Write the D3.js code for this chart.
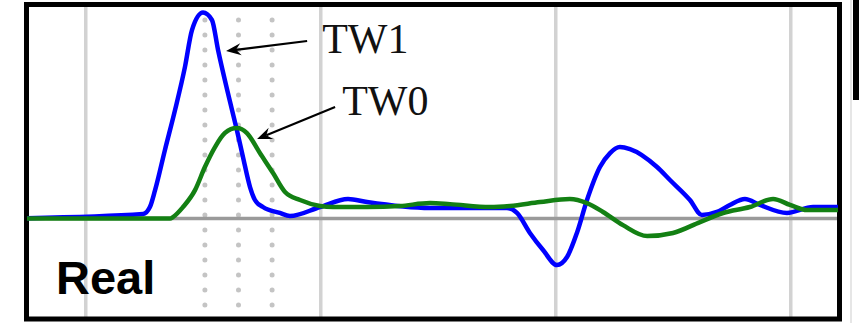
<!DOCTYPE html>
<html>
<head>
<meta charset="utf-8">
<script src="https://cdn.jsdelivr.net/npm/d3@7/dist/d3.min.js"></script>
<style>
  html, body { margin: 0; padding: 0; background: #fff; }
  svg { display: block; }
</style>
</head>
<body>
<svg id="chart" width="859" height="325"></svg>
<script>
// Waveforms: time (t) and amplitude (v), normalised so the TW1 peak is 1.
const tw1T = [-0.25, 0.244, 0.273, 0.295, 0.337, 0.380, 0.422, 0.452, 0.499, 0.537, 0.563, 0.605, 0.643, 0.669, 0.699, 0.720, 0.754, 0.826, 0.869, 0.997, 1.116, 1.197, 1.465, 1.792, 1.835, 1.890, 1.946, 2.005, 2.048, 2.090, 2.133, 2.188, 2.231, 2.273, 2.316, 2.431, 2.486, 2.571, 2.622, 2.686, 2.741, 2.805, 2.869, 2.984, 3.095, 3.201];
const tw1V = [0.002, 0.022, 0.056, 0.138, 0.333, 0.527, 0.735, 0.915, 1.000, 0.964, 0.818, 0.609, 0.430, 0.299, 0.153, 0.090, 0.056, 0.027, 0.012, 0.056, 0.095, 0.080, 0.051, 0.051, 0.027, -0.070, -0.153, -0.226, -0.187, -0.070, 0.090, 0.250, 0.318, 0.347, 0.337, 0.250, 0.187, 0.090, 0.017, 0.032, 0.066, 0.095, 0.066, 0.027, 0.056, 0.056];

const tw0T = [-0.25, 0.359, 0.371, 0.414, 0.465, 0.507, 0.550, 0.592, 0.643, 0.686, 0.741, 0.797, 0.848, 0.912, 0.997, 1.052, 1.197, 1.337, 1.465, 1.550, 1.720, 1.805, 1.933, 2.060, 2.133, 2.201, 2.286, 2.389, 2.499, 2.614, 2.712, 2.826, 2.925, 2.997, 3.069, 3.201];
const tw0V = [0.000, 0.000, 0.007, 0.056, 0.138, 0.250, 0.347, 0.415, 0.439, 0.415, 0.318, 0.221, 0.129, 0.090, 0.061, 0.056, 0.056, 0.061, 0.075, 0.070, 0.056, 0.061, 0.080, 0.095, 0.075, 0.032, -0.032, -0.085, -0.070, -0.017, 0.027, 0.056, 0.095, 0.066, 0.041, 0.041];

// Major vertical grid positions and the dotted time markers
const gridTicks = [0, 1, 2, 3];
const markerTicks = [0.507, 0.65, 0.793];

// Annotation labels: text anchor and arrow (tail -> tip), in data units
const labelNames = ["TW1", "TW0"];
const labelPos = [[1.006, 0.803], [1.091, 0.502]];
const arrowTail = [[0.942, 0.862], [1.061, 0.541]];
const arrowTip = [[0.597, 0.813], [0.729, 0.386]];

const panelTitle = "Real";

const svg = d3.select("#chart");
const W = 859, H = 325;

const x = d3.scaleLinear().domain([-0.25, 3.2]).range([27, 837.75]);
const y = d3.scaleLinear().domain([-0.478, 1.027]).range([317, 7]);

svg.append("rect").attr("width", W).attr("height", H).attr("fill", "#fff");

// Edge of the neighbouring panel
svg.append("line").attr("x1", 851).attr("x2", 851).attr("y1", 0).attr("y2", 323)
  .attr("stroke", "#e6e6e6").attr("stroke-width", 2);
svg.append("rect").attr("x", 853).attr("y", 0).attr("width", 6).attr("height", 100).attr("fill", "#000");

const plot = svg.append("g");

// Vertical grid lines
plot.selectAll("line.grid").data(gridTicks).join("line")
  .attr("class", "grid")
  .attr("x1", d => x(d)).attr("x2", d => x(d))
  .attr("y1", 7).attr("y2", 317)
  .attr("stroke", "#d2d2d2").attr("stroke-width", 3.5);

// Dotted marker lines
plot.selectAll("line.marker").data(markerTicks).join("line")
  .attr("class", "marker")
  .attr("x1", d => x(d)).attr("x2", d => x(d))
  .attr("y1", 20).attr("y2", 306)
  .attr("stroke", "#c4c4c4").attr("stroke-width", 5)
  .attr("stroke-linecap", "round").attr("stroke-dasharray", "0 15");

// Zero baseline
plot.append("line")
  .attr("x1", 29).attr("x2", 838)
  .attr("y1", y(0)).attr("y2", y(0))
  .attr("stroke", "#9a9a9a").attr("stroke-width", 3.5);

// Frame
svg.append("rect")
  .attr("x", 26.5).attr("y", 4.5).attr("width", 813).attr("height", 314.5)
  .attr("fill", "none").attr("stroke", "#000").attr("stroke-width", 5);

const line = d3.line().x(d => x(d[0])).y(d => y(d[1])).curve(d3.curveMonotoneX);

const tw1 = d3.zip(tw1T, tw1V);
const tw0 = d3.zip(tw0T, tw0V);

svg.append("path").datum(tw1).attr("d", line)
  .attr("fill", "none").attr("stroke", "#0000ff").attr("stroke-width", 4.5)
  .attr("stroke-linejoin", "round").attr("stroke-linecap", "butt");

svg.append("path").datum(tw0).attr("d", line)
  .attr("fill", "none").attr("stroke", "#138013").attr("stroke-width", 4.5)
  .attr("stroke-linejoin", "round").attr("stroke-linecap", "butt");

// Arrows with stealth-style heads
labelNames.forEach((name, i) => {
  const x0 = x(arrowTail[i][0]), y0 = y(arrowTail[i][1]);
  const x1 = x(arrowTip[i][0]), y1 = y(arrowTip[i][1]);
  const ang = Math.atan2(y1 - y0, x1 - x0);
  const len = 15, half = 6, notch = 10;
  const ux = Math.cos(ang), uy = Math.sin(ang);
  const px = -uy, py = ux;
  const bx = x1 - ux * len, by = y1 - uy * len;
  const nx = x1 - ux * notch, ny = y1 - uy * notch;
  svg.append("line")
    .attr("x1", x0).attr("y1", y0).attr("x2", nx).attr("y2", ny)
    .attr("stroke", "#000").attr("stroke-width", 2.2);
  svg.append("path")
    .attr("d", `M${x1},${y1} L${bx + px * half},${by + py * half} L${nx},${ny} L${bx - px * half},${by - py * half} Z`)
    .attr("fill", "#000");
  svg.append("text")
    .attr("x", x(labelPos[i][0])).attr("y", y(labelPos[i][1]))
    .attr("font-family", "'Liberation Serif', 'Times New Roman', serif")
    .attr("font-size", 42).attr("fill", "#111")
    .text(name);
});

svg.append("text")
  .attr("x", 56).attr("y", 294)
  .attr("font-family", "'Liberation Sans', Arial, sans-serif")
  .attr("font-weight", "bold").attr("font-size", 47).attr("fill", "#000")
  .text(panelTitle);
</script>
</body>
</html>
